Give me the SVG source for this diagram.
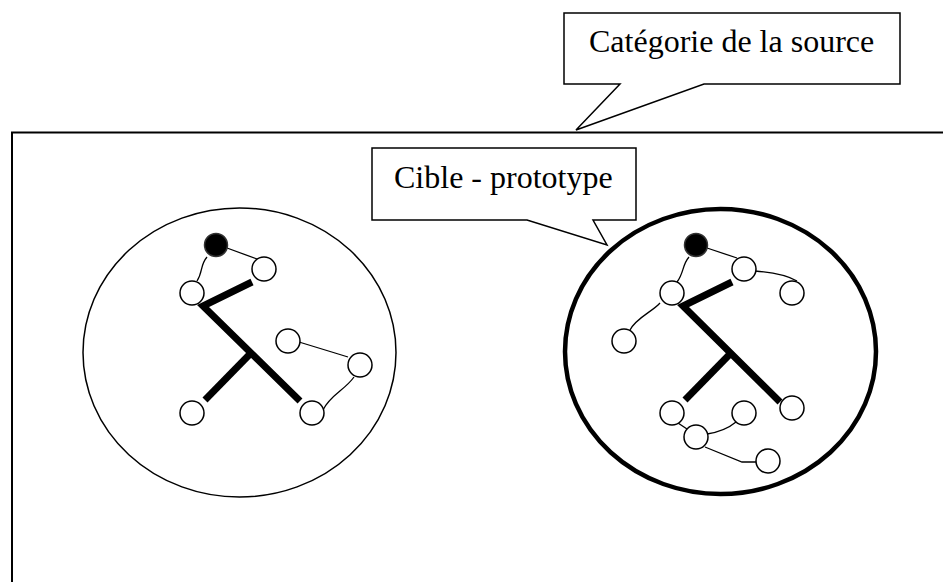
<svg xmlns="http://www.w3.org/2000/svg" width="943" height="582" viewBox="0 0 943 582">
<style>
.frame{fill:none;stroke:#000;stroke-width:2}
.callout{fill:#fff;stroke:#000;stroke-width:1.5;stroke-linejoin:miter}
.lbl{font-family:"Liberation Serif","Times New Roman",serif;font-size:32px;fill:#000}
.cat{fill:#fff;stroke:#000;stroke-width:1.5}
.cat-proto{fill:#fff;stroke:#000;stroke-width:4.5}
.node{fill:#fff;stroke:#000;stroke-width:1.5}
.root{fill:#000;stroke:#333;stroke-width:1.5}
.thick{stroke:#000;stroke-width:7;fill:none;stroke-linecap:butt;stroke-linejoin:miter}
.thin{stroke:#000;stroke-width:1.3;fill:none}
</style>
<rect width="943" height="582" fill="#fff"/>
<g id="frame">
<path class="frame" d="M12,590 L12,132.5 L950,132.5"/>
</g>
<g id="cat-left"><ellipse class="cat" cx="239.5" cy="352.5" rx="156.5" ry="144.5"/></g>
<g id="cat-right"><ellipse class="cat-proto" cx="720.5" cy="351.5" rx="155.5" ry="142.5"/></g>
<g id="connectors">
<!-- left structure -->
<path class="thick" d="M252,282 L203,306 L300,401"/>
<path class="thick" d="M250,354 L205,400"/>
<path class="thin" d="M227,248 L257,259"/>
<path class="thin" d="M207,257 C200,265 203,272 197,281"/>
<path class="thin" d="M299,342 L335,353 L348,357"/>
<path class="thin" d="M354,377 C345,390 330,395 323,410"/>
<!-- right structure -->
<path class="thick" d="M732,282 L683,306 L780,402"/>
<path class="thick" d="M730,354 L685,400"/>
<path class="thin" d="M707,248 L737,258"/>
<path class="thin" d="M689,257 C682,265 684,273 677,282"/>
<path class="thin" d="M755,271 C768,272 785,274 797,281"/>
<path class="thin" d="M660,303 C652,312 636,318 630,330"/>
<path class="thin" d="M678,423 L687,429"/>
<path class="thin" d="M707,434 C720,432 730,427 736,422"/>
<path class="thin" d="M705,447 L742,462 L757,462"/>
</g>
<g id="nodes-left">
<circle class="root" cx="216" cy="245" r="11.5"/>
<circle class="node" cx="264" cy="269" r="12"/>
<circle class="node" cx="192" cy="293" r="12"/>
<circle class="node" cx="288" cy="341" r="12"/>
<circle class="node" cx="360" cy="365" r="12"/>
<circle class="node" cx="192" cy="413" r="12"/>
<circle class="node" cx="312" cy="413" r="12"/>
</g>
<g id="nodes-right">
<circle class="root" cx="696" cy="245" r="11.5"/>
<circle class="node" cx="744" cy="269" r="12"/>
<circle class="node" cx="792" cy="293" r="12"/>
<circle class="node" cx="672" cy="293" r="12"/>
<circle class="node" cx="624" cy="341" r="12"/>
<circle class="node" cx="672" cy="413" r="12"/>
<circle class="node" cx="744" cy="413" r="12"/>
<circle class="node" cx="792" cy="408" r="12"/>
<circle class="node" cx="696" cy="437" r="12"/>
<circle class="node" cx="768" cy="461" r="12"/>
</g>
<g id="callout-source">
<path class="callout" d="M564,13 L900,13 L900,84 L704,84 L576,130 L620,84 L564,84 Z"/>
<text class="lbl" x="589" y="52">Catégorie de la source</text>
</g>
<g id="callout-cible">
<path class="callout" d="M372,148 L636,148 L636,220 L593,220 L607,245 L527,220 L372,220 Z"/>
<text class="lbl" x="394" y="188">Cible - prototype</text>
</g>
</svg>
